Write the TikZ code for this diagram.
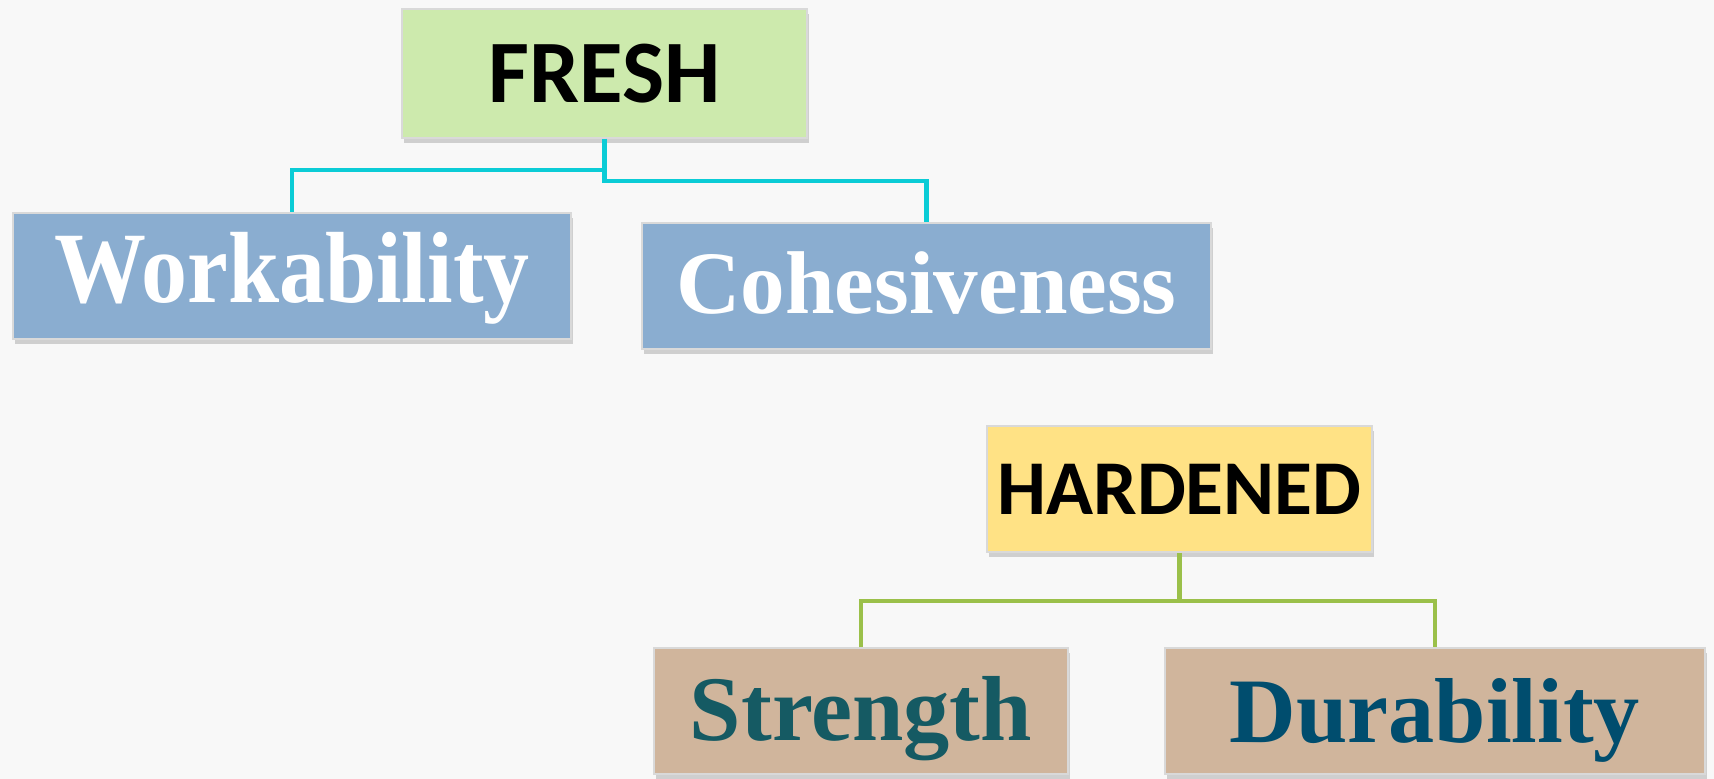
\documentclass[tikz,border=0pt]{standalone}
\usepackage{fontspec}
\usepackage{graphicx}
\setmainfont{Liberation Serif}
\newfontfamily\hdfont{Carlito}
\usetikzlibrary{shadows}
\definecolor{bgc}{HTML}{F8F8F8}
\definecolor{freshc}{HTML}{CDEAAD}
\definecolor{bluec}{HTML}{8AADD0}
\definecolor{yellc}{HTML}{FFE285}
\definecolor{tanc}{HTML}{D0B59C}
\definecolor{cyanl}{HTML}{0BCCD6}
\definecolor{greenl}{HTML}{9BC04A}
\definecolor{strc}{HTML}{155A63}
\definecolor{durc}{HTML}{004D6E}
\newcommand{\shiftbox}[2]{\raisebox{#1}[\height][\depth]{#2}}
\tikzset{
  box/.style={draw=white!85!black, line width=1.5pt, inner sep=0pt,
    drop shadow={shadow xshift=2pt, shadow yshift=-5pt, opacity=0.3, fill=black!55}},
  headbox/.style={box, font=\hdfont\bfseries, text=black},
  subbox/.style={box, font=\bfseries},
  cline/.style={cyanl, line width=4.5pt},
  gline/.style={greenl, line width=4.5pt}
}
\begin{document}
\begin{tikzpicture}[x=1pt,y=-1pt]
\fill[bgc] (0,0) rectangle (1714,779);
\useasboundingbox (0,0) rectangle (1714,779);
\node[headbox, fill=freshc, minimum width=405pt, minimum height=129pt] (fresh) at (604.5,73.5)
  {\resizebox{232pt}{!}{FRESH}};
\node[subbox, fill=bluec, text=white, minimum width=558pt, minimum height=126pt] (work) at (292,276)
  {\shiftbox{-2pt}{\scalebox{1}[1.1]{\resizebox{475pt}{!}{Workability}}}};
\node[subbox, fill=bluec, text=white, minimum width=569pt, minimum height=126pt] (cohe) at (926.5,286)
  {\shiftbox{3pt}{\resizebox{500pt}{!}{Cohesiveness}}};
\node[headbox, fill=yellc, minimum width=385pt, minimum height=126pt] (hard) at (1179.5,489)
  {\resizebox{364pt}{!}{HARDENED}};
\node[subbox, fill=tanc, text=strc, minimum width=414pt, minimum height=126pt] (str) at (861,711)
  {\shiftbox{-8pt}{\resizebox{342pt}{!}{Strength}}};
\node[subbox, fill=tanc, text=durc, minimum width=540pt, minimum height=126pt] (dur) at (1435,711)
  {\shiftbox{-9pt}{\resizebox{410pt}{!}{Durability}}};
\draw[cline] (fresh.south) -- ++(0,31) -| (work.north);
\draw[cline] (fresh.south) -- ++(0,42) -| (cohe.north);
\draw[gline] (hard.south) -- ++(0,48) coordinate (hj);
\draw[gline] (str.north) |- (hj) -| (dur.north);
\end{tikzpicture}
\end{document}
